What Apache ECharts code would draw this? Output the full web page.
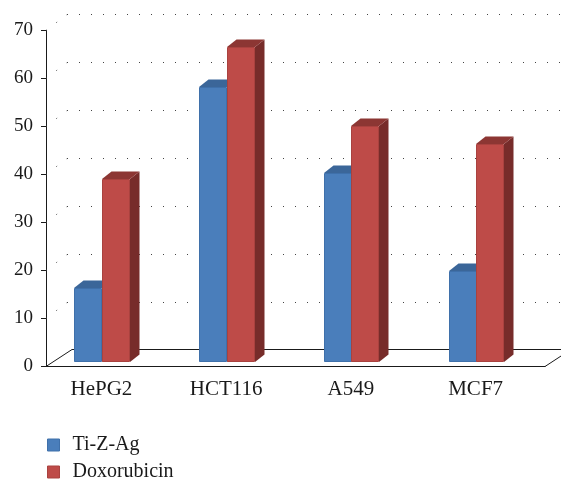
<!DOCTYPE html>
<html>
<head>
<meta charset="utf-8">
<script src="https://cdn.jsdelivr.net/npm/echarts@6/dist/echarts.min.js"></script>
<style>html,body{margin:0;padding:0;background:#fff}#chart{width:561px;height:479px}</style>
</head>
<body>
<div id="chart"></div>
<script>
var categories = ['HePG2', 'HCT116', 'A549', 'MCF7'];
var tiZAg = [15.4, 57.2, 39.3, 19.0];
var doxorubicin = [38.1, 65.6, 49.2, 45.4];
var yTicks = [0, 10, 20, 30, 40, 50, 60, 70];

var FONT = 'Liberation Serif';
// fake 3d offsets: floor depth, back wall, bar depth
var FLOOR = [26, -18], WALL = [21, -17], BAR = [9.5, -7.5];
var BAR_W = 27.5, BAR_LIFT = 4.5, BAR_SHIFT = -34;

var palette = [
  {front: '#4a7ebb', top: '#3b6699', side: '#2f5480', edge: '#3f70aa'},
  {front: '#be4b48', top: '#8c3633', side: '#772c2a', edge: '#a9423f'}
];

function px(v) { return Math.round(v) + 0.5; }

function barItem(k) {
  return function (params, api) {
    var c = palette[k];
    var top = api.coord([api.value(0), api.value(1)]);
    var base = api.coord([api.value(0), 0]);
    var x0 = Math.round(top[0] + BAR_SHIFT + k * BAR_W), x1 = Math.round(x0 + BAR_W);
    var y0 = Math.round(top[1] - BAR_LIFT), y1 = Math.round(base[1] - BAR_LIFT);
    var dx = BAR[0], dy = BAR[1];
    return {type: 'group', children: [
      {type: 'polygon', shape: {points: [[x1, y0], [x1 + dx, y0 + dy], [x1 + dx, y1 + dy], [x1, y1]]},
        style: {fill: c.side}},
      {type: 'polygon', shape: {points: [[x0, y0], [x0 + dx, y0 + dy], [x1 + dx, y0 + dy], [x1, y0]]},
        style: {fill: c.top}},
      {type: 'rect', shape: {x: x0 + 0.5, y: y0 + 0.5, width: x1 - x0 - 1, height: y1 - y0 - 1},
        style: {fill: c.front, stroke: c.edge, lineWidth: 1}}
    ]};
  };
}

// floor + dotted side/back wall lines, one item per y tick
function wallItem(params, api) {
  var v = api.value(1);
  var cs = params.coordSys;
  var x = cs.x, y = api.coord([0, v])[1];
  var right = cs.x + cs.width + 60;
  if (v === 0) {
    var by = px(y + FLOOR[1]);
    return {type: 'group', children: [
      {type: 'line', shape: {x1: x, y1: y, x2: x + FLOOR[0], y2: by}, style: {stroke: '#1a1a1a', lineWidth: 1}},
      {type: 'line', shape: {x1: x + FLOOR[0], y1: by, x2: right, y2: by}, style: {stroke: '#1a1a1a', lineWidth: 1}},
      {type: 'line', shape: {x1: cs.x + cs.width, y1: y, x2: cs.x + cs.width + FLOOR[0], y2: by},
        style: {stroke: '#1a1a1a', lineWidth: 1}}
    ]};
  }
  var wy = px(y + WALL[1]);
  return {type: 'group', children: [
    {type: 'line', shape: {x1: x, y1: y, x2: x + WALL[0], y2: wy},
      style: {stroke: '#444', lineWidth: 1, lineDash: [1, 12]}},
    {type: 'line', shape: {x1: Math.round(x + WALL[0]), y1: wy, x2: right, y2: wy},
      style: {stroke: '#444', lineWidth: 1, lineDash: [1, 11]}}
  ]};
}

var chart = echarts.init(document.getElementById('chart'));
chart.setOption({
  animation: false,
  textStyle: {fontFamily: FONT, color: '#1a1a1a'},
  grid: {left: 46, right: 16, top: 30.5, bottom: 112.5, outerBoundsMode: 'none'},
  legend: {
    orient: 'vertical', left: 47, top: 435, height: 60, padding: 0, icon: 'rect',
    itemWidth: 12, itemHeight: 12, itemGap: 7,
    textStyle: {fontFamily: FONT, fontSize: 20, color: '#1a1a1a', lineHeight: 20, padding: [0, 0, 0, 8]},
    data: [
      {name: 'Ti-Z-Ag', itemStyle: {borderColor: '#3f70aa', borderWidth: 1}},
      {name: 'Doxorubicin', itemStyle: {borderColor: '#a9423f', borderWidth: 1}}
    ]
  },
  xAxis: {
    type: 'category', data: categories,
    axisLine: {lineStyle: {color: '#1a1a1a', width: 1}},
    axisTick: {length: 6, lineStyle: {color: '#1a1a1a'}},
    axisLabel: {fontFamily: FONT, fontSize: 21, color: '#1a1a1a', margin: 12, padding: [0, 14, 0, 0]},
    splitLine: {show: false}
  },
  yAxis: {
    type: 'value', min: 0, max: 70, interval: 10,
    axisLine: {show: true, lineStyle: {color: '#1a1a1a', width: 1}},
    axisTick: {show: true, length: 5, lineStyle: {color: '#1a1a1a'}},
    axisLabel: {fontFamily: FONT, fontSize: 19, color: '#1a1a1a', margin: 13},
    splitLine: {show: false}
  },
  series: [
    {type: 'custom', name: 'walls', silent: true, z: 1,
      data: yTicks.map(function (v) { return [0, v]; }), renderItem: wallItem},
    {type: 'custom', name: 'Ti-Z-Ag', itemStyle: {color: palette[0].front}, z: 3,
      data: tiZAg.map(function (v, i) { return [i, v]; }), renderItem: barItem(0)},
    {type: 'custom', name: 'Doxorubicin', itemStyle: {color: palette[1].front}, z: 4,
      data: doxorubicin.map(function (v, i) { return [i, v]; }), renderItem: barItem(1)}
  ]
});
</script>
</body>
</html>
